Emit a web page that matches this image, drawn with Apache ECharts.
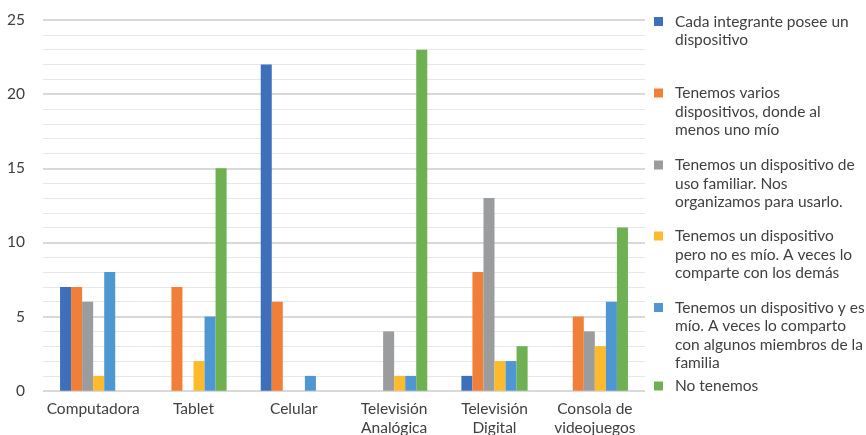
<!DOCTYPE html>
<html><head><meta charset="utf-8">
<script src="https://cdn.jsdelivr.net/npm/echarts@6/dist/echarts.min.js"></script>
<style>html,body{margin:0;padding:0;background:#fff}#c{width:866px;height:435px}</style>
</head><body><div id="c"></div>
<script>
var categories = ['Computadora','Tablet','Celular','Televisión\nAnalógica','Televisión\nDigital','Consola de\nvideojuegos'];
var seriesNames = [
  'Cada integrante posee un dispositivo',
  'Tenemos varios dispositivos, donde al menos uno mío',
  'Tenemos un dispositivo de uso familiar. Nos organizamos para usarlo.',
  'Tenemos un dispositivo pero no es mío. A veces lo comparte con los demás',
  'Tenemos un dispositivo y es mío. A veces lo comparto con algunos miembros de la familia',
  'No tenemos'
];
var legendLines = [
  ['Cada integrante posee un','dispositivo'],
  ['Tenemos varios','dispositivos, donde al','menos uno mío'],
  ['Tenemos un dispositivo de','uso familiar. Nos','organizamos para usarlo.'],
  ['Tenemos un dispositivo','pero no es mío. A veces lo','comparte con los demás'],
  ['Tenemos un dispositivo y es','mío. A veces lo comparto','con algunos miembros de la','familia'],
  ['No tenemos']
];
var cadaIntegrante = [7, 0, 22, 0, 1, 0];
var variosDispositivos = [7, 7, 6, 0, 8, 5];
var usoFamiliar = [6, 0, 0, 4, 13, 4];
var noEsMio = [1, 2, 0, 1, 2, 3];
var esMio = [8, 5, 1, 1, 2, 6];
var noTenemos = [0, 15, 0, 23, 3, 11];
var yTicks = [0, 5, 10, 15, 20, 25];

var colors = ['#3d6fbb','#f07f3a','#9a9c9d','#fdbb2b','#4f97d2','#6fb152'];
var allData = [cadaIntegrante, variosDispositivos, usoFamiliar, noEsMio, esMio, noTenemos];
var legendIconCenters = [21.5, 93, 165, 236, 307.5, 386];
var FONT = 'Lato';
var FS = 15.5;
var LH = 18.5;
var textColor = '#404040';

var legends = seriesNames.map(function (name, i) {
  var n = legendLines[i].length;
  return {
    orient: 'vertical',
    left: 654,
    top: legendIconCenters[i] - LH / 2 - (n - 1) * LH,
    padding: 0,
    itemWidth: 9,
    itemHeight: 9,
    icon: 'rect',
    selectedMode: false,
    data: [name],
    formatter: function () { return legendLines[i].join('\n'); },
    textStyle: {
      fontFamily: FONT, fontSize: FS, color: textColor, lineHeight: LH,
      padding: [(n - 1) * LH, 0, 0, 7],
      rich: { x: {} }
    }
  };
});

var chart = echarts.init(document.getElementById('c'), null, {renderer: 'canvas'});
chart.setOption({
  animation: false,
  color: colors,
  legend: legends,
  grid: { left: 43, right: 221, top: 20, bottom: 44.3, outerBoundsMode: 'none', containLabel: false },
  xAxis: {
    type: 'category',
    data: categories,
    axisLine: { show: false },
    axisTick: { show: false },
    axisLabel: { interval: 0, margin: 9, fontFamily: FONT, fontSize: FS, color: textColor, lineHeight: 19 }
  },
  yAxis: {
    type: 'value',
    min: 0, max: 25, interval: 5,
    axisLine: { show: false },
    axisTick: { show: false },
    axisLabel: { margin: 18, fontFamily: FONT, fontSize: FS, color: textColor,
      formatter: function (v) { return yTicks.indexOf(v) >= 0 ? String(v) : ''; } },
    splitLine: { show: true, lineStyle: { color: '#d9d9d9', width: 2 } },
    minorTick: { show: false, splitNumber: 5 },
    minorSplitLine: { show: true, lineStyle: { color: '#e8e8e8', width: 1 } }
  },
  series: allData.map(function (d, i) {
    return {
      name: seriesNames[i],
      type: 'bar',
      data: d,
      barGap: '0%',
      barCategoryGap: '34%',
      itemStyle: { color: colors[i] }
    };
  })
});
</script></body></html>
